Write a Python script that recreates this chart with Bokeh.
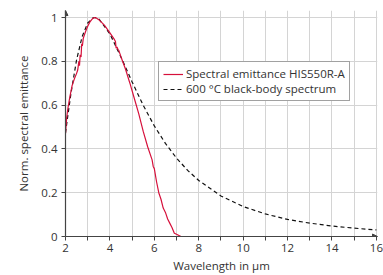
from bokeh.plotting import figure
from bokeh.models import Range1d, FixedTicker, Legend, LegendItem, Arrow, NormalHead
from bokeh.embed import file_html
from bokeh.resources import INLINE

# Spectral emittance HIS550R-A
wl_red = [2.0, 2.05, 2.1, 2.15, 2.2, 2.3, 2.4, 2.5, 2.55, 2.6, 2.63, 2.66, 2.7, 2.73, 2.76, 2.8, 2.9,
          3.0, 3.1, 3.2, 3.3, 3.4, 3.5, 3.75, 4.0, 4.2, 4.25, 4.28, 4.32, 4.36, 4.4, 4.5,
          4.7, 4.9, 5.1, 5.3, 5.5, 5.7, 5.9, 5.95, 6.0, 6.1, 6.2, 6.3, 6.4, 6.5, 6.6,
          6.7, 6.8, 6.9, 7.0, 7.2, 8.0, 9.0, 10.0]
em_red = [0.47, 0.54, 0.58, 0.61, 0.64, 0.69, 0.72, 0.745, 0.76, 0.80, 0.78, 0.83, 0.82, 0.88, 0.87, 0.905, 0.935,
          0.96, 0.98, 0.993, 1.0, 0.997, 0.99, 0.965, 0.93, 0.90, 0.89, 0.86, 0.865, 0.855, 0.85, 0.82,
          0.765, 0.70, 0.63, 0.56, 0.48, 0.41, 0.35, 0.32, 0.31, 0.25, 0.20, 0.17, 0.13, 0.11, 0.08,
          0.06, 0.04, 0.015, 0.01, 0.0, 0.0, 0.0, 0.0]

# 600 °C black-body spectrum (normalised)
wl_bb = [2.0, 2.1, 2.25, 2.5, 2.75, 3.0, 3.25, 3.32, 3.5, 4.0, 4.5, 5.0, 5.5, 6.0, 6.5, 7.0,
         7.5, 8.0, 9.0, 10.0, 11.0, 12.0, 13.0, 14.0, 15.0, 16.0]
em_bb = [0.473, 0.548, 0.656, 0.807, 0.913, 0.975, 0.999, 1.0, 0.994, 0.925, 0.819, 0.706, 0.599, 0.505, 0.425, 0.358,
         0.302, 0.256, 0.185, 0.137, 0.103, 0.078, 0.061, 0.048, 0.038, 0.030]

x_ticks = list(range(2, 17))
x_labels = {t: (str(t) if t % 2 == 0 else "") for t in x_ticks}
y_ticks = [0, 0.2, 0.4, 0.6, 0.8, 1.0]
y_labels = {0: "0", 0.2: "0.2", 0.4: "0.4", 0.6: "0.6", 0.8: "0.8", 1: "1"}

X_START, X_END = 2, 16.05
Y_START, Y_END = 0, 1.032

FONT = "Open Sans"
TXT = "#333333"
RED = "#d6103b"

p = figure(width=383, height=275, output_backend="svg", toolbar_location=None,
           x_range=Range1d(X_START, X_END), y_range=Range1d(Y_START, Y_END),
           min_border_left=65, min_border_right=6, min_border_top=10, min_border_bottom=39)
p.outline_line_color = None
p.background_fill_color = "white"

for ax in (p.xaxis[0], p.yaxis[0]):
    ax.axis_line_color = "#444444"
    ax.axis_line_width = 1.2
    ax.major_tick_line_color = "#444444"
    ax.major_tick_out = 4
    ax.major_tick_in = 0
    ax.minor_tick_out = 0
    ax.minor_tick_in = 0
    ax.major_label_text_font = FONT
    ax.major_label_text_font_size = "11.5px"
    ax.major_label_text_color = TXT
    ax.axis_label_text_font = FONT
    ax.axis_label_text_font_size = "11.5px"
    ax.axis_label_text_font_style = "normal"
    ax.axis_label_text_color = TXT

p.xaxis.ticker = FixedTicker(ticks=x_ticks)
p.xaxis.major_label_overrides = x_labels
p.xaxis.axis_label = "Wavelength in µm"
p.xaxis.axis_label_standoff = 3
p.xaxis.major_label_standoff = 3

p.yaxis.ticker = FixedTicker(ticks=y_ticks)
p.yaxis.major_label_overrides = y_labels
p.yaxis.axis_label = "Norm. spectral emittance"
p.yaxis.axis_label_standoff = 7
p.yaxis.major_label_standoff = 4

p.xgrid.grid_line_color = "#d4d4d4"
p.ygrid.grid_line_color = "#d4d4d4"
p.xgrid.grid_line_width = 1
p.ygrid.grid_line_width = 1

bb = p.line(wl_bb, em_bb, line_color="#111111", line_width=1.2, line_dash="4 3")
red = p.line(wl_red, em_red, line_color=RED, line_width=1.2)

# axis arrow heads
p.add_layout(Arrow(end=NormalHead(size=5, fill_color="#444444", line_color="#444444"),
                   x_start=X_START, y_start=1.0, x_end=X_START, y_end=Y_END,
                   line_color="#444444", line_width=1.2))
p.add_layout(Arrow(end=NormalHead(size=5, fill_color="#444444", line_color="#444444"),
                   x_start=15.5, y_start=Y_START, x_end=X_END, y_end=Y_START,
                   line_color="#444444", line_width=1.2))

legend = Legend(items=[LegendItem(label="Spectral emittance HIS550R-A", renderers=[red]),
                       LegendItem(label="600 °C black-body spectrum", renderers=[bb])],
                location=(93, 135))
legend.label_text_font = FONT
legend.label_text_font_size = "11.5px"
legend.label_text_color = TXT
legend.border_line_color = "#444444"
legend.border_line_width = 1
legend.background_fill_alpha = 1
legend.padding = 4
legend.spacing = 0
legend.margin = 0
legend.glyph_width = 20
legend.glyph_height = 14
legend.label_height = 14
legend.label_standoff = 3
p.add_layout(legend, "center")

open("out.html", "w").write(file_html(p, INLINE))
